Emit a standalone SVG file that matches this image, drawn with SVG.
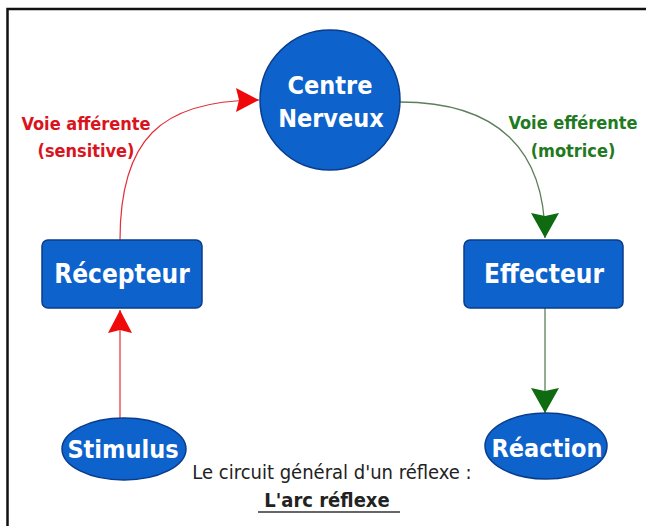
<svg xmlns="http://www.w3.org/2000/svg" width="646" height="526" viewBox="0 0 646 526">
  <style>
    .node { fill: #0d62cc; stroke: #0a3c8c; stroke-width: 1.5; }
    .nt { fill: #ffffff; font-family: 'DejaVu Sans Condensed', 'DejaVu Sans', sans-serif; font-stretch: condensed; font-weight: bold; text-anchor: middle; }
    .lab { font-family: 'DejaVu Sans Condensed', 'DejaVu Sans', sans-serif; font-stretch: condensed; font-weight: bold; font-size: 18px; text-anchor: middle; }
    .red { fill: #d9141c; }
    .green { fill: #217a21; }
    .cap { fill: #222222; font-family: 'DejaVu Sans Condensed', 'DejaVu Sans', sans-serif; font-stretch: condensed; text-anchor: middle; }
    .rline { fill: none; stroke: #e0303a; stroke-width: 1.2; }
    .gline { fill: none; stroke: #5b7f5b; stroke-width: 1.3; }
  </style>
  <defs>
    <marker id="arrR" markerUnits="userSpaceOnUse" markerWidth="24" markerHeight="24" refX="23" refY="12" orient="auto">
      <path d="M0,0 L23,12 L0,24 L3,12 z" fill="#ee0a0a"/>
    </marker>
    <marker id="arrG" markerUnits="userSpaceOnUse" markerWidth="26" markerHeight="28" refX="25" refY="14" orient="auto">
      <path d="M0,0 L25,14 L0,28 L3,14 z" fill="#0f6b0f"/>
    </marker>
  </defs>
  <rect x="0" y="0" width="646" height="526" fill="#ffffff"/>
  <polyline points="7.5,526 7.5,9 646,9" fill="none" stroke="#111111" stroke-width="2.5"/>

  <g id="connectors">
    <path class="rline" d="M120,240 C120,140 160,100 259,100" marker-end="url(#arrR)"/>
    <path class="rline" d="M120,418 L120,310" marker-end="url(#arrR)"/>
    <path class="gline" d="M400,102 C498,102 545,150 545,238" marker-end="url(#arrG)"/>
    <path class="gline" d="M545,308 L545,413" marker-end="url(#arrG)"/>
  </g>

  <g id="centre">
    <circle class="node" cx="330" cy="100" r="70"/>
    <text class="nt" x="330" y="94" font-size="25">Centre</text>
    <text class="nt" x="331" y="127" font-size="25">Nerveux</text>
  </g>
  <g id="recepteur">
    <rect class="node" x="42" y="240" width="160" height="68" rx="6"/>
    <text class="nt" x="122" y="283" font-size="26">Récepteur</text>
  </g>
  <g id="effecteur">
    <rect class="node" x="464" y="240" width="159" height="68" rx="6"/>
    <text class="nt" x="544" y="283" font-size="26">Effecteur</text>
  </g>
  <g id="stimulus">
    <ellipse class="node" cx="124" cy="449" rx="62" ry="31"/>
    <text class="nt" x="123" y="458" font-size="25">Stimulus</text>
  </g>
  <g id="reaction">
    <ellipse class="node" cx="546" cy="446" rx="61" ry="33"/>
    <text class="nt" x="547" y="457" font-size="25">Réaction</text>
  </g>

  <g id="labels">
    <text class="lab red" x="86" y="130">Voie afférente</text>
    <text class="lab red" x="86" y="157">(sensitive)</text>
    <text class="lab green" x="573" y="129">Voie efférente</text>
    <text class="lab green" x="573" y="157">(motrice)</text>
  </g>

  <g id="caption">
    <text class="cap" x="332" y="479" font-size="20">Le circuit général d'un réflexe :</text>
    <text class="cap" x="327" y="507" font-size="20" font-weight="bold">L'arc réflexe</text>
    <line x1="258" y1="512" x2="400" y2="512" stroke="#333333" stroke-width="1.5"/>
  </g>
</svg>
